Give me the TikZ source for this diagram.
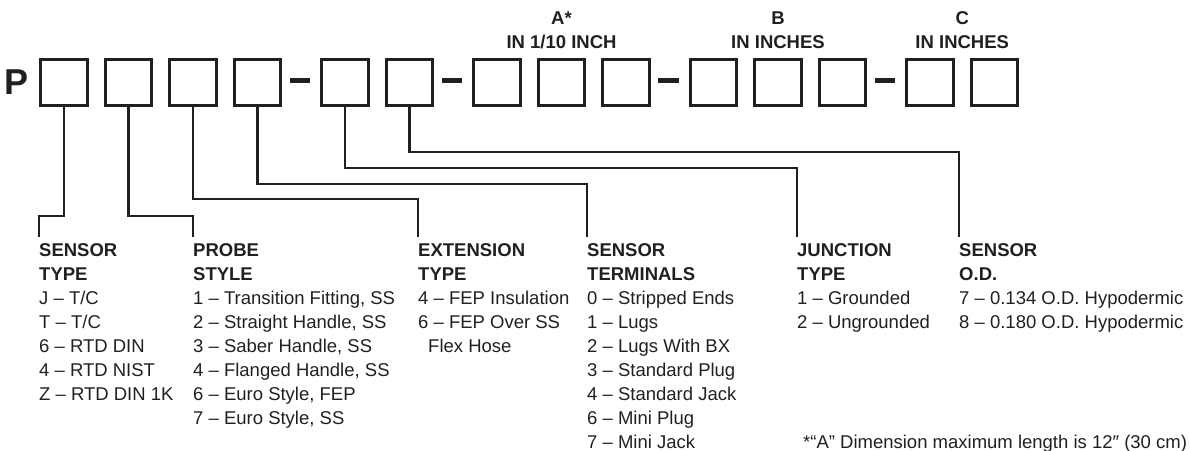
\documentclass[tikz,border=0pt]{standalone}
\usepackage{fontspec}
\setmainfont{Liberation Sans}
\usepackage{tikz}
\usetikzlibrary{positioning,calc}
\definecolor{ink}{HTML}{231F20}

\begin{document}
\begin{tikzpicture}[
  x=1pt,y=-1pt,
  node distance=15.4pt,
  slot/.style={draw=ink,line width=2.6pt,minimum width=46.5pt,minimum height=46.5pt,inner sep=0pt},
  hyph/.style={draw=ink,line width=4.5pt,shorten <=7.5pt,shorten >=10pt,transform canvas={yshift=2pt}},
  wire/.style={draw=ink,line width=2.6pt},
  legend/.style={anchor=north west,inner sep=0pt,align=left,text=ink,font=\fontsize{18.5}{24}\selectfont},
  dimlbl/.style={inner sep=0pt,align=center,text=ink,font=\bfseries\fontsize{18.5}{24}\selectfont}
]
\useasboundingbox (0,0) rectangle (1190,450);

\node[slot] (b1) at (64,82.5) {};
\node[slot,right=of b1] (b2) {};
\node[slot,right=of b2] (b3) {};
\node[slot,right=of b3] (b4) {};
\node[slot,right=38.4pt of b4] (b5) {};
\node[slot,right=of b5] (b6) {};
\node[slot,right=38.4pt of b6] (b7) {};
\node[slot,right=of b7] (b8) {};
\node[slot,right=of b8] (b9) {};
\node[slot,right=38.4pt of b9] (b10) {};
\node[slot,right=of b10] (b11) {};
\node[slot,right=of b11] (b12) {};
\node[slot,right=38.4pt of b12] (b13) {};
\node[slot,right=of b13] (b14) {};

\node[inner sep=0pt,text=ink,font=\bfseries\fontsize{36}{36}\selectfont,left=11pt of b1] (pfx) {P};

\draw[hyph] (b4.east) -- (b5.west);
\draw[hyph] (b6.east) -- (b7.west);
\draw[hyph] (b9.east) -- (b10.west);
\draw[hyph] (b12.east) -- (b13.west);

\node[dimlbl,above=8.6pt of b8] (dimA) {A*\\IN 1/10 INCH};
\node[dimlbl,above=8.6pt of b11] (dimB) {B\\IN INCHES};
\coordinate (cmid) at ($(b13.north)!0.5!(b14.north)$);
\node[dimlbl,above=8.6pt of cmid] (dimC) {C\\IN INCHES};

\node[legend] (stype) at (39,243.2) {\textbf{SENSOR}\\\textbf{TYPE}\\J – T/C\\T – T/C\\6 – RTD DIN\\4 – RTD NIST\\Z – RTD DIN 1K};
\node[legend] (pstyle) at (193,243.2) {\textbf{PROBE}\\\textbf{STYLE}\\1 – Transition Fitting, SS\\2 – Straight Handle, SS\\3 – Saber Handle, SS\\4 – Flanged Handle, SS\\6 – Euro Style, FEP\\7 – Euro Style, SS};
\node[legend] (ext) at (418,243.2) {\textbf{EXTENSION}\\\textbf{TYPE}\\4 – FEP Insulation\\6 – FEP Over SS\\\hspace*{10pt}Flex Hose};
\node[legend] (term) at (587,243.2) {\textbf{SENSOR}\\\textbf{TERMINALS}\\0 – Stripped Ends\\1 – Lugs\\2 – Lugs With BX\\3 – Standard Plug\\4 – Standard Jack\\6 – Mini Plug\\7 – Mini Jack};
\node[legend] (junc) at (797,243.2) {\textbf{JUNCTION}\\\textbf{TYPE}\\1 – Grounded\\2 – Ungrounded};
\node[legend] (sod) at (959,243.2) {\textbf{SENSOR}\\\textbf{O.D.}\\7 – 0.134 O.D. Hypodermic\\8 – 0.180 O.D. Hypodermic};

\node[anchor=base west,inner sep=0pt,text=ink,font=\fontsize{18.5}{24}\selectfont] (note) at (803,448) {*“A” Dimension maximum length is 12″ (30 cm)};

\draw[wire] (b1.south) -- ++(0,109) -| ([yshift=6pt]stype.north west);
\draw[wire] (b2.south) -- ++(0,109) -| ([yshift=6pt]pstyle.north west);
\draw[wire] (b3.south) -- ++(0,92) -| ([yshift=6pt]ext.north west);
\draw[wire] (b4.south) -- ++(0,77) -| ([yshift=6pt]term.north west);
\draw[wire] (b5.south) -- ++(0,61) -| ([yshift=6pt]junc.north west);
\draw[wire] (b6.south) -- ++(0,45) -| ([yshift=6pt]sod.north west);
\end{tikzpicture}
\end{document}
